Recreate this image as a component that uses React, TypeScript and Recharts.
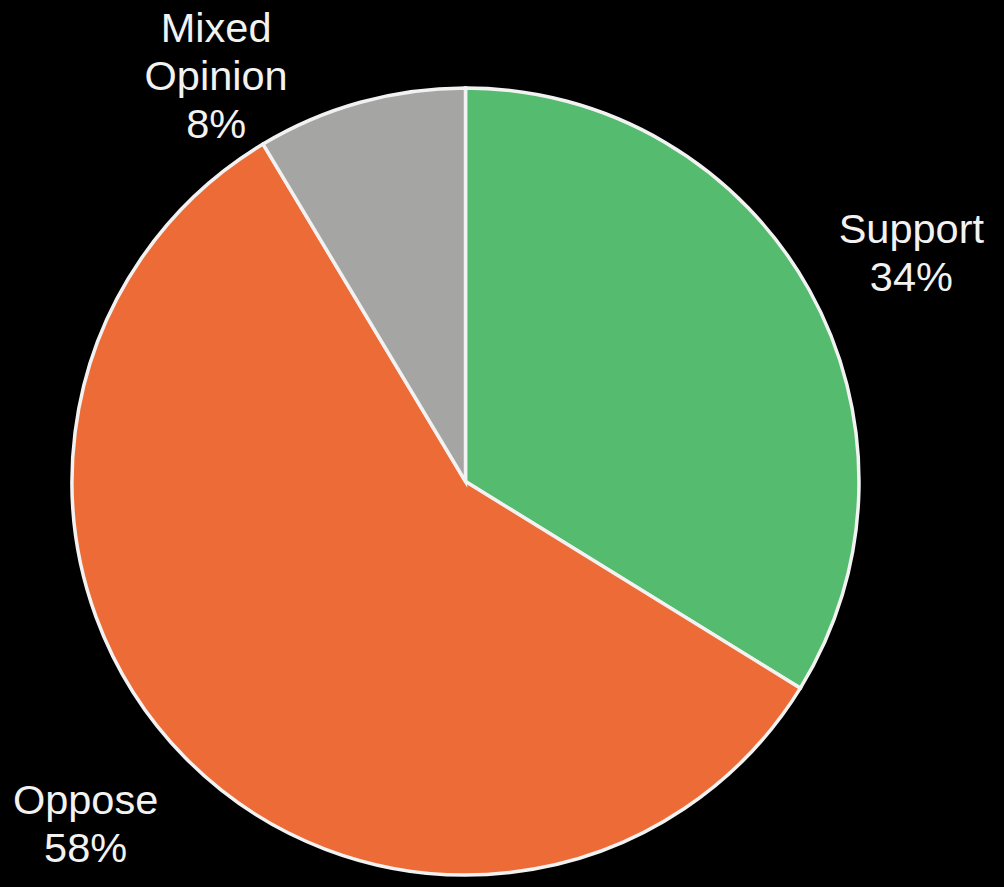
import React from "react";
import { PieChart, Pie, Cell } from "recharts";

const categories = ["Support", "Oppose", "Mixed Opinion"];
const values = [33.8, 57.6, 8.6];
const percentLabels = ["34%", "58%", "8%"];
const colors = ["#55BB6E", "#ED6B36", "#A5A5A3"];

const data = categories.map((name, i) => ({ name, value: values[i] }));

const RAD = Math.PI / 180;
const labelGap = 57.5;
const nudges = [
  { dx: 52, dy: -19 },
  { dx: -59, dy: 16 },
  { dx: -129, dy: -5 },
];

const renderLabel = (props: any) => {
  const { cx, cy, midAngle, outerRadius, index } = props;
  const r = outerRadius + labelGap;
  const x = cx + r * Math.cos(-midAngle * RAD) + nudges[index].dx;
  const y = cy + r * Math.sin(-midAngle * RAD) + nudges[index].dy;
  const lines = [...categories[index].split(" "), percentLabels[index]];
  return (
    <text
      key={`lbl-${index}`}
      x={x}
      y={y}
      fill="#F2F2F2"
      textAnchor="middle"
      fontFamily="'Liberation Sans', Arial, sans-serif"
      fontSize={41.5}
    >
      {lines.map((t, i) => (
        <tspan key={i} x={x} dy={i === 0 ? 0 : 48}>
          {t}
        </tspan>
      ))}
    </text>
  );
};

export default function App() {
  return (
    <div
      style={{
        position: "absolute",
        left: 0,
        top: 0,
        width: 1004,
        height: 887,
        background: "#000000",
      }}
    >
      <PieChart width={1004} height={887} margin={{ top: 0, right: 0, bottom: 0, left: 0 }}>
        <Pie
          data={data}
          dataKey="value"
          nameKey="name"
          cx={465.5}
          cy={481.5}
          innerRadius={0}
          outerRadius={393.5}
          startAngle={90}
          endAngle={-270}
          stroke="#F2F2F2"
          strokeWidth={3.5}
          label={renderLabel}
          labelLine={false}
          isAnimationActive={false}
        >
          {data.map((d, i) => (
            <Cell key={d.name} fill={colors[i]} />
          ))}
        </Pie>
      </PieChart>
    </div>
  );
}
